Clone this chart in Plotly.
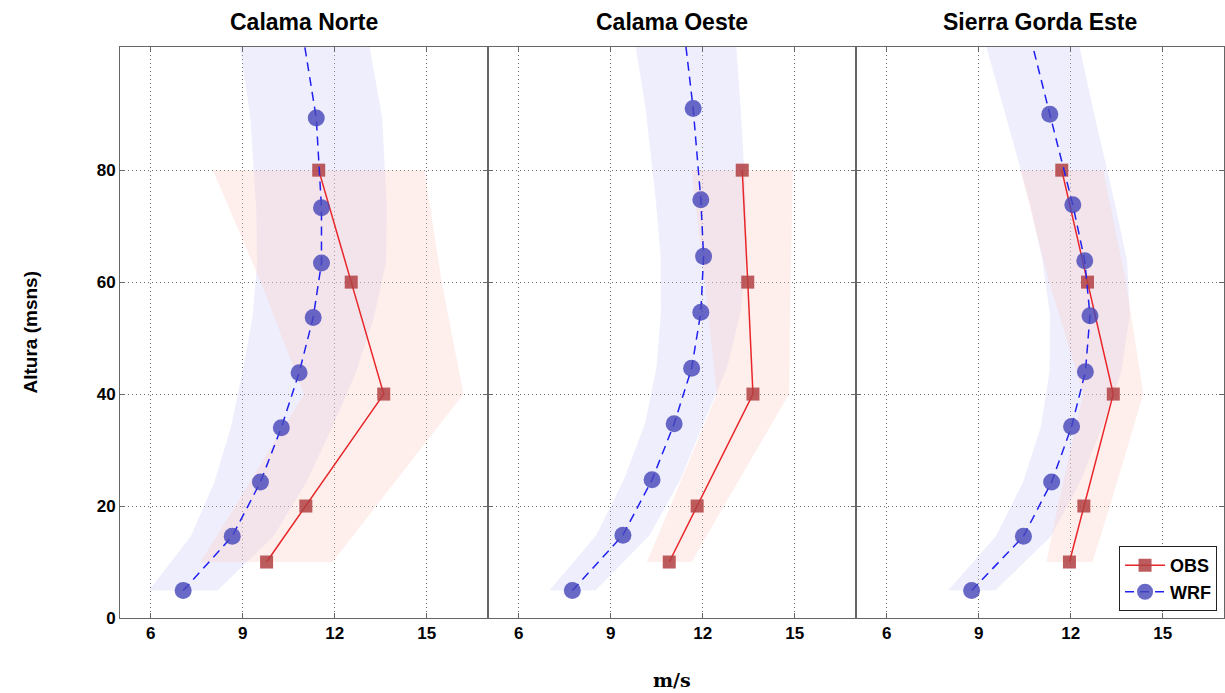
import plotly.graph_objects as go
from plotly.subplots import make_subplots

sites = ["Calama Norte", "Calama Oeste", "Sierra Gorda Este"]

obs_h = [10, 20, 40, 60, 80]
obs_v = {
    "Calama Norte": [9.78, 11.06, 13.60, 12.54, 11.48],
    "Calama Oeste": [10.91, 11.82, 13.64, 13.47, 13.29],
    "Sierra Gorda Este": [11.96, 12.43, 13.39, 12.55, 11.71],
}
obs_sd = {
    "Calama Norte": [2.15, 2.3, 2.6, 2.95, 3.45],
    "Calama Oeste": [0.73, 0.87, 1.18, 1.40, 1.65],
    "Sierra Gorda Este": [0.75, 0.85, 0.98, 1.25, 1.35],
}

wrf_h = {
    "Calama Norte": [4.9, 14.6, 24.3, 34.0, 43.8, 53.7, 63.4, 73.3, 89.3, 107],
    "Calama Oeste": [4.9, 14.8, 24.7, 34.7, 44.6, 54.6, 64.6, 74.7, 91.0, 107],
    "Sierra Gorda Este": [4.9, 14.6, 24.3, 34.2, 44.0, 54.0, 63.8, 73.8, 90.0, 107],
}
wrf_v = {
    "Calama Norte": [7.06, 8.66, 9.58, 10.26, 10.84, 11.30, 11.57, 11.57, 11.40, 10.88],
    "Calama Oeste": [7.75, 9.40, 10.35, 11.07, 11.64, 11.94, 12.03, 11.94, 11.69, 11.35],
    "Sierra Gorda Este": [8.77, 10.46, 11.38, 12.03, 12.48, 12.63, 12.46, 12.07, 11.32, 10.54],
}
wrf_sd = {
    "Calama Norte": [1.12, 1.35, 1.5, 1.65, 1.85, 1.98, 2.1, 2.13, 2.15, 2.1],
    "Calama Oeste": [0.75, 0.87, 0.92, 0.95, 1.15, 1.3, 1.4, 1.47, 1.55, 1.68],
    "Sierra Gorda Este": [0.77, 0.9, 0.93, 1.0, 1.17, 1.3, 1.38, 1.38, 1.45, 1.55],
}

x_ticks = [6, 9, 12, 15]
y_ticks = [0, 20, 40, 60, 80]

FONT = "Liberation Sans"

fig = make_subplots(rows=1, cols=3, shared_yaxes=True, horizontal_spacing=0)

for i, s in enumerate(sites):
    col = i + 1
    lo = [v - d for v, d in zip(wrf_v[s], wrf_sd[s])]
    hi = [v + d for v, d in zip(wrf_v[s], wrf_sd[s])]
    fig.add_trace(go.Scatter(x=lo + hi[::-1], y=wrf_h[s] + wrf_h[s][::-1], fill="toself",
                             fillcolor="rgba(200,200,250,0.30)", line=dict(width=0),
                             mode="lines", showlegend=False, hoverinfo="skip"), row=1, col=col)
    lo = [v - d for v, d in zip(obs_v[s], obs_sd[s])]
    hi = [v + d for v, d in zip(obs_v[s], obs_sd[s])]
    fig.add_trace(go.Scatter(x=lo + hi[::-1], y=obs_h + obs_h[::-1], fill="toself",
                             fillcolor="rgba(252,210,200,0.35)", line=dict(width=0),
                             mode="lines", showlegend=False, hoverinfo="skip"), row=1, col=col)

for i, s in enumerate(sites):
    col = i + 1
    fig.add_trace(go.Scatter(x=obs_v[s], y=obs_h, mode="lines+markers", name="OBS",
                             line=dict(color="#e8262a", width=1.5),
                             marker=dict(symbol="square", size=13, color="rgba(178,64,66,0.85)"),
                             showlegend=(i == 0)), row=1, col=col)
    fig.add_trace(go.Scatter(x=wrf_v[s], y=wrf_h[s], mode="lines+markers", name="WRF",
                             line=dict(color="#2020f0", width=1.5, dash="9px,6px"),
                             marker=dict(symbol="circle", size=17, color="rgba(72,72,185,0.82)"),
                             showlegend=(i == 0)), row=1, col=col)

for i in range(3):
    fig.update_xaxes(range=[5, 17], tickvals=x_ticks, showgrid=True, gridcolor="#666",
                     griddash="1px,3px", gridwidth=1, showline=True, linecolor="#666", linewidth=1,
                     mirror="allticks", ticks="inside", ticklen=5, tickcolor="#666", zeroline=False,
                     tickfont=dict(family=FONT, size=17, color="black", weight="bold"),
                     row=1, col=i + 1)
    fig.update_yaxes(range=[0, 102], tickvals=y_ticks, showgrid=True, gridcolor="#666",
                     griddash="1px,3px", gridwidth=1, showline=True, linecolor="#666", linewidth=1,
                     mirror="allticks", ticks="inside", ticklen=5, tickcolor="#666", zeroline=False,
                     tickfont=dict(family=FONT, size=17, color="black", weight="bold"),
                     row=1, col=i + 1)

annotations = []
domains = [fig.layout.xaxis.domain, fig.layout.xaxis2.domain, fig.layout.xaxis3.domain]
for s, d in zip(sites, domains):
    annotations.append(dict(text=s, x=(d[0] + d[1]) / 2, y=1.0, xref="paper", yref="paper",
                            xanchor="center", yanchor="bottom", yshift=10, showarrow=False,
                            font=dict(family=FONT, size=23, color="black", weight="bold")))
annotations.append(dict(text="Altura (msns)", textangle=-90, x=-90 / 1104, y=0.5,
                        xref="paper", yref="paper", showarrow=False,
                        xanchor="center", yanchor="middle",
                        font=dict(family=FONT, size=19, color="black", weight="bold")))
annotations.append(dict(text="m/s", x=0.5, y=-0.108, xref="paper", yref="paper",
                        showarrow=False, xanchor="center", yanchor="middle",
                        font=dict(family="DejaVu Serif", size=19, color="black", weight="bold")))

fig.update_layout(
    width=1225, height=693,
    margin=dict(l=120, r=1, t=47, b=75),
    paper_bgcolor="white", plot_bgcolor="white",
    annotations=annotations,
    showlegend=True,
    legend=dict(x=0.9937, y=0.012, xanchor="right", yanchor="bottom",
                bgcolor="white", bordercolor="#222", borderwidth=1,
                font=dict(family=FONT, size=18, color="black", weight="bold"),
                tracegroupgap=0, itemwidth=40),
)

fig.write_html("out.html")
